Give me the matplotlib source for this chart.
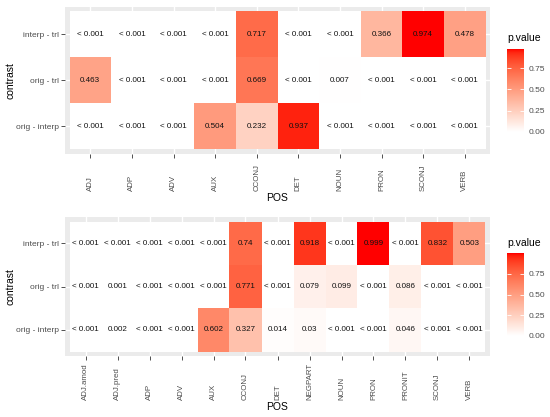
import numpy as np
import matplotlib
matplotlib.use('Agg')
import matplotlib.pyplot as plt
from matplotlib.colors import ListedColormap, Normalize
from matplotlib.cm import ScalarMappable

plt.rcParams['font.family'] = ['Liberation Sans', 'DejaVu Sans']

# rows top to bottom; 0.0 stands for "< 0.001"
contrasts = ['interp - trl', 'orig - trl', 'orig - interp']

pos_a = ['ADJ', 'ADP', 'ADV', 'AUX', 'CCONJ', 'DET', 'NOUN', 'PRON', 'SCONJ', 'VERB']
a_interp_trl = [0.0, 0.0, 0.0, 0.0, 0.717, 0.0, 0.0, 0.366, 0.974, 0.478]
a_orig_trl = [0.463, 0.0, 0.0, 0.0, 0.669, 0.0, 0.007, 0.0, 0.0, 0.0]
a_orig_interp = [0.0, 0.0, 0.0, 0.504, 0.232, 0.937, 0.0, 0.0, 0.0, 0.0]

pos_b = ['ADJ.amod', 'ADJ.pred', 'ADP', 'ADV', 'AUX', 'CCONJ', 'DET', 'NEGPART',
         'NOUN', 'PRON', 'PRONIT', 'SCONJ', 'VERB']
b_interp_trl = [0.0, 0.0, 0.0, 0.0, 0.0, 0.74, 0.0, 0.918, 0.0, 0.999, 0.0, 0.832, 0.503]
b_orig_trl = [0.0, 0.001, 0.0, 0.0, 0.0, 0.771, 0.0, 0.079, 0.099, 0.0, 0.086, 0.0, 0.0]
b_orig_interp = [0.0, 0.002, 0.0, 0.0, 0.602, 0.327, 0.014, 0.03, 0.0, 0.0, 0.046, 0.0, 0.0]

legend_ticks = [0.0, 0.25, 0.5, 0.75]


# white -> red gradient interpolated in Lab, like ggplot's scale_fill_gradient
def srgb_to_lab(c):
    c = np.asarray(c, float)
    lin = np.where(c <= 0.04045, c / 12.92, ((c + 0.055) / 1.055) ** 2.4)
    M = np.array([[0.4124, 0.3576, 0.1805],
                  [0.2126, 0.7152, 0.0722],
                  [0.0193, 0.1192, 0.9505]])
    xyz = M @ lin / np.array([0.95047, 1.0, 1.08883])
    f = np.where(xyz > 0.008856, np.cbrt(xyz), 7.787 * xyz + 16 / 116)
    return np.array([116 * f[1] - 16, 500 * (f[0] - f[1]), 200 * (f[1] - f[2])])


def lab_to_srgb(lab):
    L, a, b = lab
    fy = (L + 16) / 116
    fx = fy + a / 500
    fz = fy - b / 200
    f = np.array([fx, fy, fz])
    xyz = np.where(f ** 3 > 0.008856, f ** 3, (f - 16 / 116) / 7.787)
    xyz = xyz * np.array([0.95047, 1.0, 1.08883])
    Minv = np.array([[3.2406, -1.5372, -0.4986],
                     [-0.9689, 1.8758, 0.0415],
                     [0.0557, -0.2040, 1.0570]])
    lin = np.clip(Minv @ xyz, 0, 1)
    c = np.where(lin <= 0.0031308, 12.92 * lin, 1.055 * lin ** (1 / 2.4) - 0.055)
    return np.clip(c, 0, 1)


lo = srgb_to_lab([1, 1, 1])
hi = srgb_to_lab([1, 0, 0])
cmap = ListedColormap([lab_to_srgb(lo + t * (hi - lo)) for t in np.linspace(0, 1, 256)])


def fmt(p):
    return '< 0.001' if p < 0.001 else '%g' % round(p, 3)


W, H = 550, 417
fig = plt.figure(figsize=(5.5, 4.17), dpi=100)


def box(x0, y0, x1, y1):
    return [x0 / W, 1 - y1 / H, (x1 - x0) / W, (y1 - y0) / H]


def heat(top, bottom, pos, rows, xpad, lab_y, cb_top, cb_bottom, title_y):
    vals = np.array(rows)
    n = len(pos)
    left, right = 65, 490
    ax = fig.add_axes(box(left, top, right, bottom))
    ax.set_facecolor('#EBEBEB')
    norm = Normalize(0, vals.max())
    ax.pcolormesh(np.arange(n + 1) - 0.5, np.arange(4) - 0.5, vals[::-1],
                  cmap=cmap, norm=norm, zorder=2)
    for i, row in enumerate(vals[::-1]):
        for j, v in enumerate(row):
            ax.text(j, i, fmt(v), ha='center', va='center', fontsize=5.8,
                    color='#111111', zorder=3)
    border = 4.5
    ex = border / ((right - left - 2 * border) / n)
    ey = border / ((bottom - top - 2 * border) / 3)
    ax.set_xlim(-0.5 - ex, n - 0.5 + ex)
    ax.set_ylim(-0.5 - ey, 2.5 + ey)
    ax.set_xticks(range(n))
    ax.set_xticklabels(pos, rotation=90, va='bottom', ha='center')
    ax.set_yticks(range(3))
    ax.set_yticklabels(contrasts[::-1])
    ax.grid(color='white', lw=1)
    ax.set_axisbelow(True)
    for s in ax.spines.values():
        s.set_visible(False)
    ax.tick_params(length=3, width=0.6, color='#333333', labelcolor='#4D4D4D', labelsize=6)
    ax.tick_params(axis='x', pad=xpad, labelsize=5.7)
    ax.tick_params(axis='y', pad=1.5)

    fig.text(277.5 / W, 1 - lab_y / H, 'POS', ha='center', va='center', fontsize=7.5)
    fig.text(10 / W, 1 - (top + bottom) / 2 / H, 'contrast', rotation=90,
             ha='center', va='center', fontsize=7.5)

    cax = fig.add_axes(box(507, cb_top, 524, cb_bottom))
    cb = fig.colorbar(ScalarMappable(norm=norm, cmap=cmap), cax=cax)
    cb.outline.set_visible(False)
    cb.set_ticks(legend_ticks)
    cb.set_ticklabels(['%.2f' % t for t in legend_ticks])
    cax.tick_params(direction='in', length=3, width=0.6, color='white', left=True,
                    right=True, labelsize=6, labelcolor='#4D4D4D', pad=3.5)
    fig.text(507 / W, 1 - title_y / H, 'p.value', ha='left', va='center', fontsize=7.5)


heat(7, 154, pos_a, [a_interp_trl, a_orig_trl, a_orig_interp], 23.6, 198,
     132 - 0.974 * 85.3, 132, 38)
heat(217, 356, pos_b, [b_interp_trl, b_orig_trl, b_orig_interp], 28.7, 407,
     336 - 0.999 * 82.7, 336, 243)

fig.savefig('out.png', dpi=100)
